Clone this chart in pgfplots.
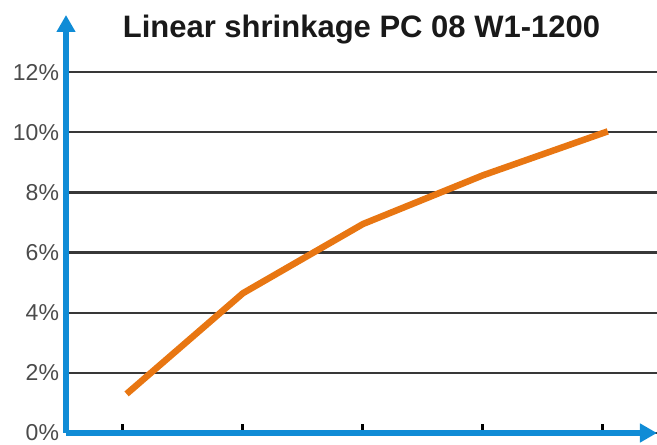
\documentclass[border=0pt]{standalone}
\usepackage{pgfplots}
\pgfplotsset{compat=1.18}
\usepackage{fontspec}
\setmainfont{Liberation Sans}
\usetikzlibrary{arrows.meta}

\definecolor{axisblue}{RGB}{16,140,214}
\definecolor{lineorange}{RGB}{232,118,18}
\definecolor{labelgray}{RGB}{75,75,75}

\begin{document}
\begin{tikzpicture}
  \begin{axis}[
      name=ax,
      scale only axis,
      width=591pt, height=418pt,
      xmin=0.525, xmax=5.45,
      ymin=0, ymax=13.9,
      axis lines=left,
      axis line style={axisblue, line width=5.5pt, -{Triangle[length=17pt,width=18pt]}},
      xtick={1,2,3,4,5},
      xticklabels={},
      xtick align=inside,
      major tick length=9pt,
      x tick style={black, line width=3pt},
      ytick={0,2,4,6,8,10,12},
      yticklabels={0\%,2\%,4\%,6\%,8\%,10\%,12\%},
      y tick style={draw=none},
      yticklabel style={font=\fontsize{23}{26}\selectfont, text=labelgray, anchor=east, xshift=1pt},
      ymajorgrids,
      major grid style={black!78, line width=2.3pt},
      title={Linear shrinkage PC 08 W1-1200},
      title style={font=\fontsize{31}{34}\selectfont\bfseries, text=black!90, anchor=north, yshift=-3pt},
    ]
    \addplot[lineorange, line width=6.5pt] coordinates {
        (1.03,1.30) (2.0,4.65) (3.0,6.95) (4.0,8.57) (5.04,10.03)
      };
  \end{axis}
  \pgfresetboundingbox
  \path[use as bounding box] ([xshift=-66pt,yshift=-12pt]ax.south west)
    rectangle ([xshift=591pt,yshift=433pt]ax.south west);
\end{tikzpicture}
\end{document}
